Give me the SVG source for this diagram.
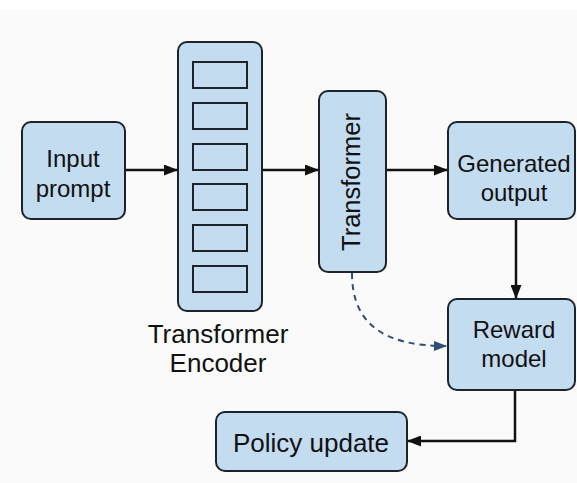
<svg xmlns="http://www.w3.org/2000/svg" width="577" height="483" viewBox="0 0 577 483">
<defs>
<style>
.box{fill:#c4dcf0;stroke:#1c232b;stroke-width:2}
.cell{fill:#c4dcf0;stroke:#1c232b;stroke-width:2}
.t{font-family:"Liberation Sans",Arial,sans-serif;font-size:24px;fill:#111;text-anchor:middle}
.big{font-size:26px}
.c{fill:none;stroke:#111;stroke-width:2.5}
.d{fill:none;stroke:#2f4f7a;stroke-width:2;stroke-dasharray:6 5}
</style>
<marker id="ah" viewBox="0 0 14 11" refX="13" refY="5.5" markerWidth="14" markerHeight="11" markerUnits="userSpaceOnUse" orient="auto">
<path d="M0,0 L14,5.5 L0,11 Z" fill="#111"/>
</marker>
<marker id="ahb" viewBox="0 0 13 10" refX="12" refY="5" markerWidth="13" markerHeight="10" markerUnits="userSpaceOnUse" orient="auto">
<path d="M0,0 L13,5 L0,10 Z" fill="#2f4f7a"/>
</marker>
</defs>
<rect width="577" height="483" fill="#fafafa"/>
<rect width="577" height="10" fill="#ffffff"/>

<g id="connectors">
<path class="c" d="M125,170 L177,170" marker-end="url(#ah)"/>
<path class="c" d="M262,170 L318,170" marker-end="url(#ah)"/>
<path class="c" d="M386,170 L447,170" marker-end="url(#ah)"/>
<path class="c" d="M516,219 L516,298" marker-end="url(#ah)"/>
<path class="c" d="M515,390 L515,441 L408,441" marker-end="url(#ah)"/>
<path class="d" d="M352,273 C352,325 385,346 446,346" marker-end="url(#ahb)"/>
</g>

<g id="input-prompt">
<rect class="box" x="22" y="122" width="103" height="97" rx="9"/>
<text class="t" x="73" y="167">Input</text>
<text class="t" x="73" y="197">prompt</text>
</g>

<g id="transformer-encoder">
<rect class="box" x="178" y="42" width="84" height="269" rx="9"/>
<rect class="cell" x="193" y="62" width="54" height="26"/>
<rect class="cell" x="193" y="103" width="54" height="26"/>
<rect class="cell" x="193" y="144" width="54" height="26"/>
<rect class="cell" x="193" y="184" width="54" height="26"/>
<rect class="cell" x="193" y="225" width="54" height="26"/>
<rect class="cell" x="193" y="266" width="54" height="26"/>
<text class="t big" x="218" y="343">Transformer</text>
<text class="t big" x="218" y="372">Encoder</text>
</g>

<g id="transformer">
<rect class="box" x="319" y="91" width="67" height="181" rx="9"/>
<text class="t" style="font-size:25.5px" transform="translate(360,182) rotate(-90)">Transformer</text>
</g>

<g id="generated-output">
<rect class="box" x="448" y="122" width="127" height="97" rx="9"/>
<text class="t" x="514" y="172">Generated</text>
<text class="t" x="514" y="201">output</text>
</g>

<g id="reward-model">
<rect class="box" x="448" y="299" width="127" height="91" rx="9"/>
<text class="t" x="514" y="338">Reward</text>
<text class="t" x="514" y="367">model</text>
</g>

<g id="policy-update">
<rect class="box" x="216" y="412" width="191" height="59" rx="9"/>
<text class="t big" x="311" y="452">Policy update</text>
</g>
</svg>
